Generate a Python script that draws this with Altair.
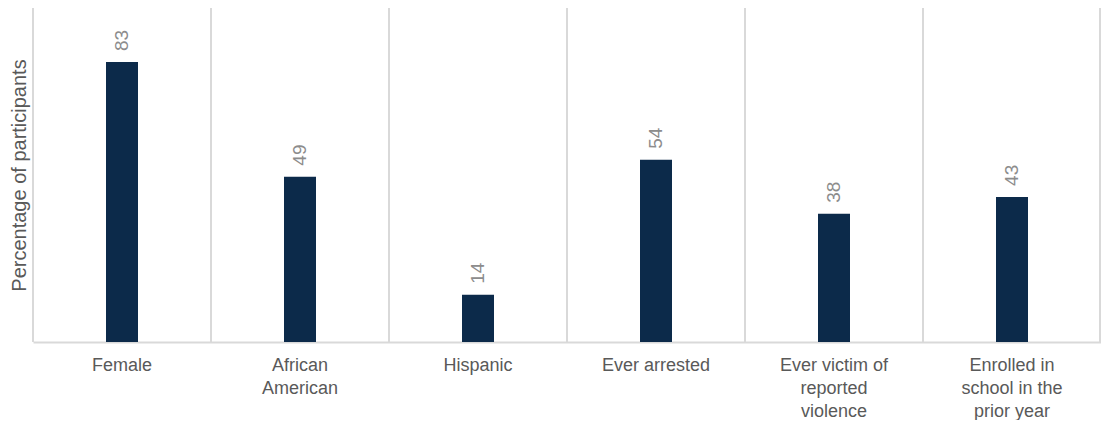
import altair as alt
import pandas as pd

categories = ["Female", "African\nAmerican", "Hispanic", "Ever arrested",
              "Ever victim of\nreported\nviolence", "Enrolled in\nschool in the\nprior year"]
values = [83, 49, 14, 54, 38, 43]

df = pd.DataFrame({"cat": categories, "val": values})

W = 1068
H = 334
FONT = "Liberation Sans"

xscale = alt.Scale(paddingInner=0, paddingOuter=0)

base = alt.Chart(df)

grid = base.mark_rule(color="#d9d9d9", strokeWidth=2).encode(
    x=alt.X("cat:N", sort=None, bandPosition=0, scale=xscale),
    y=alt.value(0), y2=alt.value(H),
)
right = alt.Chart(pd.DataFrame({"a": [0]})).mark_rule(color="#d9d9d9", strokeWidth=2).encode(
    x=alt.value(W - 1), y=alt.value(0), y2=alt.value(H)
)

bars = base.mark_bar(color="#0c2a4a", size=32).encode(
    x=alt.X("cat:N", sort=None, scale=xscale,
            axis=alt.Axis(title=None, labelExpr="split(datum.label, '\\n')", labelAngle=0,
                          labelAlign="center", labelFontSize=18, labelColor="#595959",
                          labelFont=FONT, labelPadding=14, labelLineHeight=23,
                          labelBaseline="top", labelLimit=200,
                          ticks=False, domain=True, domainColor="#d9d9d9", domainWidth=2,
                          grid=False)),
    y=alt.Y("val:Q", scale=alt.Scale(domain=[0, 99], nice=False),
            axis=alt.Axis(title="Percentage of participants", labels=False, ticks=False,
                          grid=False, domain=False, titleFontSize=20, titleColor="#595959",
                          titleFont=FONT, titleFontWeight="normal", titlePadding=4)),
)

text = base.mark_text(angle=270, align="left", baseline="middle", dx=11, fontSize=19,
                      color="#8c8c8c", font=FONT).encode(
    x=alt.X("cat:N", sort=None),
    y=alt.Y("val:Q"),
    text="val:Q",
)

chart = alt.layer(grid, right, bars, text).properties(
    width=W, height=H,
    autosize=alt.AutoSizeParams(type="none"),
    padding={"left": 25, "top": 0, "right": 0, "bottom": 78},
).configure_view(stroke=None)

chart.save("out.html", embed_options={"renderer": "svg", "actions": False})
